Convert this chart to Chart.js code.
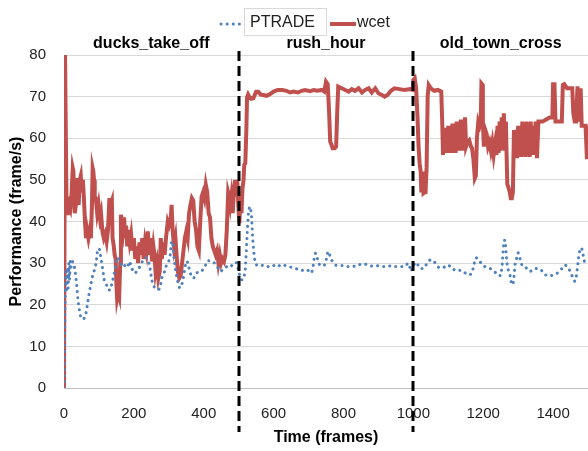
<!DOCTYPE html>
<html>
<head>
<meta charset="utf-8">
<script src="https://cdn.jsdelivr.net/npm/chart.js@4.4.1/dist/chart.umd.min.js"></script>
<style>
  body { margin: 0; background: #fff; }
  canvas { display: block; }
</style>
</head>
<body>
<canvas id="chart" width="588" height="451"></canvas>
<script>
// wcet: frame numbers and measured frame rate
const wcetFrames = [
  0, 3, 5, 7, 9, 11, 14, 18, 22, 25,
  27, 29, 31, 34, 38, 40, 42, 45, 48, 51,
  54, 57, 60, 63, 66, 70, 74, 77, 80, 82,
  84, 86, 88, 91, 95, 99, 103, 106, 110, 114,
  118, 122, 126, 130, 133, 137, 139, 142, 145, 148,
  150, 152, 155, 158, 161, 163, 166, 169, 172, 175,
  178, 181, 184, 188, 192, 196, 200, 204, 208, 212,
  216, 220, 224, 228, 232, 236, 240, 244, 248, 252,
  256, 259, 262, 266, 270, 274, 277, 280, 284, 288,
  292, 297, 301, 305, 308, 311, 315, 319, 323, 326,
  330, 334, 338, 342, 346, 350, 354, 358, 362, 366,
  370, 374, 378, 382, 386, 390, 394, 398, 402, 406,
  410, 414, 418, 422, 426, 430, 434, 438, 442, 446,
  450, 454, 458, 462, 466, 470, 473, 476, 479, 483,
  487, 490, 493, 496, 499, 502, 505, 508, 511, 514,
  516, 519, 522, 524, 527, 530, 536, 542, 550, 556,
  563, 570, 580, 590, 600, 612, 625, 637, 647, 657,
  670, 680, 690, 705, 715, 725, 738, 745, 750, 755,
  759, 762, 765, 769, 775, 779, 782, 785, 795, 805,
  815, 824, 833, 843, 853, 862, 872, 881, 891, 900,
  910, 918, 926, 936, 946, 960, 975, 990, 998, 1000,
  1004, 1008, 1012, 1015, 1018, 1021, 1023, 1026, 1029, 1032,
  1035, 1038, 1041, 1044, 1050, 1060, 1070, 1080, 1083, 1085,
  1088, 1091, 1094, 1097, 1100, 1103, 1106, 1109, 1112, 1115,
  1118, 1121, 1124, 1127, 1130, 1133, 1136, 1139, 1142, 1145,
  1148, 1151, 1155, 1160, 1165, 1168, 1172, 1176, 1179, 1182,
  1186, 1190, 1193, 1195, 1197, 1199, 1202, 1206, 1210, 1214,
  1218, 1222, 1226, 1230, 1234, 1238, 1241, 1244, 1247, 1250,
  1253, 1256, 1259, 1262, 1265, 1267, 1269, 1273, 1276, 1279,
  1282, 1285, 1288, 1291, 1294, 1297, 1300, 1303, 1306, 1309,
  1312, 1315, 1318, 1321, 1324, 1327, 1330, 1333, 1336, 1339,
  1342, 1346, 1350, 1354, 1358, 1362, 1370, 1380, 1390, 1398,
  1400, 1404, 1407, 1415, 1425, 1428, 1432, 1440, 1450, 1455,
  1458, 1462, 1466, 1470, 1473, 1476, 1479, 1482, 1488, 1493,
  1497, 1501, 1505
];
const wcetValues = [
  0, 80, 80, 46, 42, 46, 44, 43, 47, 52.8,
  52, 45, 42, 44, 50.4, 49, 44, 50, 51, 47,
  50, 45.6, 40, 36, 38, 36, 38, 36, 44, 52.8,
  52, 50, 46, 45.6, 42, 44, 40.8, 42, 37.6, 36,
  37, 35.2, 38, 45.6, 44, 45, 36, 34.4, 32, 31,
  25, 21.6, 23, 22, 30, 41.6, 40, 38, 41, 36,
  39, 34, 38, 35, 37, 33, 36, 31, 34, 30,
  35, 32, 36, 31, 35, 33, 37.6, 32, 36, 30.4,
  34, 32, 28, 30, 26.4, 28, 36, 31, 35, 32,
  36, 40, 39, 40, 44, 38, 34, 36, 31, 28,
  26.4, 27, 30, 33, 36, 37.6, 36, 42, 44, 45.6,
  45, 40, 38, 34, 33, 40, 46, 47, 45.6, 48.8,
  47, 42, 41, 36, 34, 33, 32, 33, 30, 32,
  30, 31, 30.4, 32, 38, 47, 46, 44, 46, 42,
  48, 50, 46, 50, 44, 39.6, 46, 42, 48, 50,
  53.6, 54, 62, 69.8, 70.5, 70, 69.5, 69.6, 71.2, 71.2,
  70.5, 70.4, 70.2, 70.6, 71.2, 71.6, 71.6, 71.4, 71, 71.2,
  71, 71.4, 71.6, 71.3, 71.6, 71.4, 71.6, 71.2, 73.6, 73,
  66, 59.2, 58.6, 57.6, 57.6, 58, 66, 72.4, 72, 71.6,
  71.2, 71.8, 71.4, 72, 71, 71.6, 72, 71, 72, 70.8,
  70.4, 70, 70.4, 71.4, 72, 71.8, 71.6, 71.8, 71.6, 74,
  74.4, 72, 65, 58, 54, 52, 47, 52, 46.8, 47,
  47, 53, 70, 72.8, 72, 71.4, 71.6, 71.2, 63, 56,
  62, 56.5, 62.5, 56.5, 63, 56.5, 63, 56.5, 63.5, 56.5,
  63.5, 56.5, 64, 57, 64, 57, 64.5, 57, 64.5, 57,
  65, 58, 59, 59.5, 58, 57.6, 55, 50.4, 51, 60,
  64, 63, 64, 73.2, 73, 64, 58, 62, 61, 58,
  59, 57, 59, 56, 58.5, 56, 63, 56.5, 64, 57,
  65, 58, 66, 57, 64, 56, 49, 48, 47, 45.6,
  45.6, 47, 62, 56, 62, 55.2, 63, 56, 63, 55.5,
  64, 56, 63, 55.5, 64, 56, 63, 55.5, 64, 56,
  63, 56, 64, 55.2, 64, 64, 64, 64.5, 65, 65,
  73, 73, 64, 64, 64, 72.8, 73, 72, 72, 72,
  66, 64, 64, 72.5, 67, 64, 72, 63, 63, 63,
  55, 63, 55
];

// PTRADE: frame numbers and measured frame rate
const ptradeFrames = [
  0, 2, 4, 6, 8, 10, 12, 14, 16, 18,
  20, 24, 28, 32, 36, 40, 44, 48, 52, 56,
  62, 67, 72, 77, 82, 87, 92, 96, 101, 106,
  110, 115, 121, 126, 132, 137, 142, 147, 152, 157,
  162, 168, 175, 182, 187, 192, 197, 203, 209, 216,
  222, 228, 235, 241, 246, 251, 256, 262, 270, 275,
  280, 285, 290, 295, 300, 304, 308, 311, 314, 318,
  322, 327, 331, 336, 341, 346, 351, 355, 360, 366,
  372, 378, 385, 392, 399, 405, 411, 418, 425, 431,
  437, 443, 449, 455, 462, 468, 475, 481, 486, 491,
  495, 500, 504, 508, 512, 516, 519, 522, 525, 528,
  531, 534, 537, 540, 543, 547, 552, 560, 570, 580,
  590, 600, 610, 620, 630, 640, 650, 660, 670, 680,
  690, 700, 708, 712, 716, 720, 724, 728, 732, 738,
  745, 750, 755, 759, 763, 768, 772, 778, 788, 800,
  812, 825, 838, 850, 860, 870, 880, 895, 910, 925,
  937, 945, 960, 975, 985, 990, 994, 1000, 1005, 1010,
  1016, 1022, 1030, 1036, 1042, 1048, 1054, 1060, 1066, 1072,
  1078, 1084, 1090, 1096, 1102, 1108, 1115, 1122, 1130, 1138,
  1144, 1150, 1156, 1162, 1167, 1172, 1176, 1180, 1185, 1190,
  1196, 1202, 1208, 1214, 1220, 1226, 1232, 1238, 1244, 1250,
  1254, 1257, 1260, 1263, 1265, 1268, 1271, 1274, 1277, 1280,
  1283, 1286, 1289, 1292, 1296, 1300, 1303, 1307, 1311, 1316,
  1322, 1328, 1334, 1340, 1346, 1352, 1358, 1364, 1370, 1376,
  1382, 1388, 1394, 1400, 1406, 1412, 1418, 1424, 1430, 1436,
  1442, 1448, 1454, 1458, 1462, 1466, 1470, 1474, 1478, 1482,
  1486, 1490, 1496, 1502, 1507
];
const ptradeValues = [
  0, 14, 24, 28, 23, 29, 24, 30, 26, 30.5,
  29, 30.4, 30, 28, 25, 21, 18.7, 17, 16.8, 16.5,
  17.5, 20, 22.8, 25, 27, 28.3, 30, 33.2, 33.5, 31,
  29, 26, 25, 23.6, 23.5, 25, 26.8, 29, 31.4, 31,
  30, 29, 29.5, 29, 30.4, 29.5, 28, 27.6, 28, 29,
  30, 31, 31.3, 30.5, 29, 26, 24.5, 24, 23.6, 24,
  26.5, 27.3, 28.5, 30, 30.5, 32, 35.2, 35.2, 32, 29,
  27, 25, 24, 24.5, 26, 29, 30.5, 30, 28, 26.5,
  26.5, 27.5, 28, 28, 28.5, 29.5, 30.6, 30.6, 30.4, 30,
  29.5, 28.5, 28, 28.5, 29, 29.2, 29, 29.5, 30, 30.2,
  30, 28, 26.8, 26, 26, 26.8, 28.5, 33, 38, 42,
  43.5, 43.5, 41, 36, 33, 30, 29.5, 29.3, 29.5, 29.3,
  29, 29.4, 29.7, 29.2, 29.5, 29.3, 29, 28.8, 28.5, 28.2,
  28.5, 28.2, 27.6, 28.5, 31, 32.4, 31.5, 30.2, 29.5, 29.5,
  29.4, 30.5, 32.7, 32.7, 31, 30.5, 30, 29.5, 29.4, 29.4,
  29.2, 29.2, 29.3, 29.8, 29.8, 29.6, 29.3, 29.4, 29.2, 29.2,
  29.4, 29.2, 29.2, 29.2, 30, 29, 28, 29.5, 30, 30.2,
  29, 28.7, 28.7, 29.5, 30.3, 30.8, 30.7, 30.4, 29.5, 29,
  29, 29.2, 29, 29.3, 29.5, 28.8, 28.5, 28.2, 28.3, 28.2,
  28, 27.5, 27.2, 27.2, 27.5, 29, 30.5, 31.3, 31, 30.3,
  30, 29.3, 29, 28.8, 28.7, 28.4, 28, 27.5, 27, 27,
  29, 33, 35.5, 35.5, 33, 30, 28.5, 28, 27, 25.5,
  24.8, 25, 27.5, 30.5, 31.2, 32.5, 32, 30.5, 29.5, 29.4,
  29, 28.3, 28, 28.2, 28.6, 28.7, 28.7, 28.5, 28, 27.3,
  27, 27, 27, 27.1, 27.4, 27.6, 28, 28.6, 29.4, 29.5,
  29, 28.2, 27, 26.4, 25.6, 26.5, 29, 32, 33.6, 33.6,
  32, 30.3, 30, 29.8, 29.8
];

// video clips and where they start/end
const clipNames = ['ducks_take_off', 'rush_hour', 'old_town_cross'];
const clipBounds = [0, 500, 1000, 1500];

const RED = '#C0504D';
const BLUE = '#4F81BD';
const FONT = "'Liberation Sans', Arial, sans-serif";

function toPoints(xs, ys) {
  return xs.map((f, i) => ({ x: f, y: ys[i] }));
}

// dashed separators, clip names and the legend
const overlay = {
  id: 'overlay',
  afterDatasetsDraw(chart) {
    const ctx = chart.ctx;
    const x = chart.scales.x;
    ctx.save();
    ctx.strokeStyle = '#000';
    ctx.lineWidth = 3;
    ctx.setLineDash([10, 5]);
    clipBounds.slice(1, -1).forEach(f => {
      const px = Math.round(x.getPixelForValue(f));
      ctx.beginPath();
      ctx.moveTo(px, 51);
      ctx.lineTo(px, 432);
      ctx.stroke();
    });
    ctx.restore();
  },
  afterDraw(chart) {
    const ctx = chart.ctx;
    const x = chart.scales.x;
    ctx.save();
    ctx.fillStyle = '#000';
    ctx.font = 'bold 16px ' + FONT;
    ctx.textAlign = 'center';
    ctx.textBaseline = 'middle';
    clipNames.forEach((name, i) => {
      const mid = (clipBounds[i] + clipBounds[i + 1]) / 2;
      ctx.fillText(name, x.getPixelForValue(mid), 44);
    });

    // legend
    ctx.fillStyle = '#fff';
    ctx.fillRect(244.5, 8.5, 82, 27);
    ctx.strokeStyle = '#d9d9d9';
    ctx.lineWidth = 1;
    ctx.strokeRect(244.5, 8.5, 82, 27);

    ctx.strokeStyle = BLUE;
    ctx.lineWidth = 3;
    ctx.lineCap = 'round';
    ctx.setLineDash([0.1, 6]);
    ctx.beginPath();
    ctx.moveTo(221, 24);
    ctx.lineTo(244, 24);
    ctx.stroke();

    ctx.strokeStyle = RED;
    ctx.lineWidth = 4;
    ctx.lineCap = 'butt';
    ctx.setLineDash([]);
    ctx.beginPath();
    ctx.moveTo(330, 24);
    ctx.lineTo(356, 24);
    ctx.stroke();

    ctx.fillStyle = '#222';
    ctx.font = '16px ' + FONT;
    ctx.textAlign = 'left';
    ctx.fillText('PTRADE', 250, 23);
    ctx.fillText('wcet', 357, 23);
    ctx.restore();
  }
};

new Chart(document.getElementById('chart'), {
  type: 'line',
  data: {
    datasets: [{
      label: 'PTRADE',
      data: toPoints(ptradeFrames, ptradeValues),
      borderColor: BLUE,
      borderWidth: 3,
      borderDash: [0.1, 6],
      borderCapStyle: 'round',
      pointRadius: 0,
      tension: 0
    }, {
      label: 'wcet',
      data: toPoints(wcetFrames, wcetValues),
      borderColor: RED,
      borderWidth: 4,
      pointRadius: 0,
      tension: 0
    }]
  },
  options: {
    responsive: false,
    animation: false,
    devicePixelRatio: 1,
    layout: { padding: { top: 55, left: 0, right: 0, bottom: 0 } },
    plugins: {
      legend: { display: false },
      tooltip: { enabled: false }
    },
    scales: {
      x: {
        type: 'linear',
        min: 0,
        max: 1500,
        grid: { display: false, drawTicks: false },
        border: { display: true, color: '#bfbfbf' },
        ticks: {
          stepSize: 200,
          includeBounds: false,
          padding: 17,
          color: '#222',
          font: { family: FONT, size: 15 },
          callback: v => String(v)
        },
        title: {
          display: true,
          text: 'Time (frames)',
          color: '#000',
          font: { family: FONT, size: 16, weight: 'bold' },
          padding: { top: 0, bottom: 4 }
        },
        afterFit(scale) { scale.height = 63; }
      },
      y: {
        min: 0,
        max: 80,
        grid: { color: '#d9d9d9', drawTicks: false },
        border: { display: true, color: '#bfbfbf' },
        ticks: {
          stepSize: 10,
          padding: 18,
          color: '#222',
          font: { family: FONT, size: 15 }
        },
        title: {
          display: true,
          text: 'Performance (frame/s)',
          color: '#000',
          font: { family: FONT, size: 16, weight: 'bold' },
          padding: { top: 7, bottom: 0 }
        },
        afterFit(scale) { scale.width = 64; }
      }
    }
  },
  plugins: [overlay]
});
</script>
</body>
</html>
